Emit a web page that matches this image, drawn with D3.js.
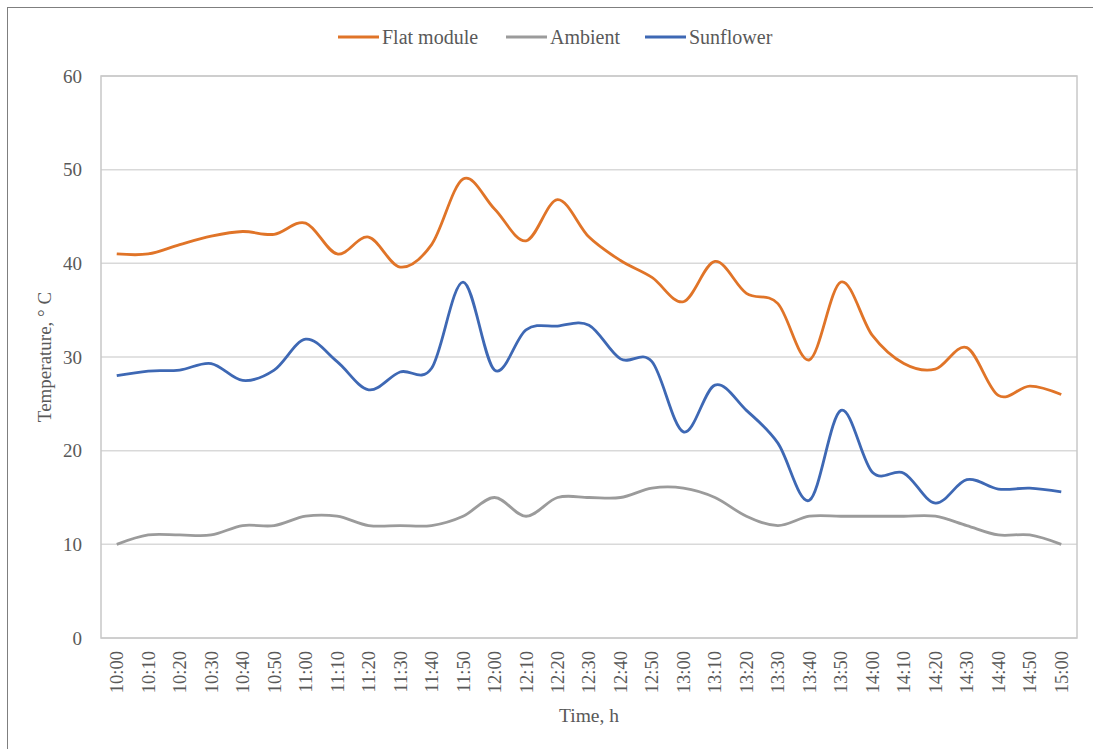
<!DOCTYPE html>
<html>
<head>
<meta charset="utf-8">
<script src="https://cdn.jsdelivr.net/npm/d3@7"></script>
<style>
  body { margin: 0; background: #fff; }
  svg text { font-family: "Liberation Serif", "Times New Roman", serif; fill: #595959; }
</style>
</head>
<body>
<div id="chart"></div>
<script>
const times = ["10:00","10:10","10:20","10:30","10:40","10:50","11:00","11:10","11:20","11:30",
  "11:40","11:50","12:00","12:10","12:20","12:30","12:40","12:50","13:00","13:10",
  "13:20","13:30","13:40","13:50","14:00","14:10","14:20","14:30","14:40","14:50","15:00"];
const flatModule = [41, 41, 42, 42.9, 43.4, 43.1, 44.3, 41, 42.8, 39.6,
  42, 49, 45.8, 42.4, 46.8, 42.8, 40.3, 38.5, 35.9, 40.2,
  36.8, 35.7, 29.7, 38, 32.3, 29.3, 28.7, 31, 25.9, 26.9, 26];
const ambient = [10, 11, 11, 11, 12, 12, 13, 13, 12, 12,
  12, 13, 15, 13, 15, 15, 15, 16, 16, 15,
  13, 12, 13, 13, 13, 13, 13, 12, 11, 11, 10];
const sunflower = [28, 28.5, 28.6, 29.3, 27.5, 28.6, 31.9, 29.5, 26.5, 28.4,
  28.8, 38, 28.6, 32.9, 33.3, 33.4, 29.8, 29.5, 22, 27,
  24.3, 20.8, 14.7, 24.3, 17.7, 17.6, 14.4, 16.9, 15.9, 16, 15.6];
const yTicks = [0, 10, 20, 30, 40, 50, 60];

const series = [
  { name: "Flat module", values: flatModule, color: "#e07428" },
  { name: "Ambient", values: ambient, color: "#9b9b9b" },
  { name: "Sunflower", values: sunflower, color: "#3e68b4" }
];

const width = 1093, height = 749;
const margin = { top: 76, right: 16, bottom: 111, left: 101 };
const innerW = width - margin.left - margin.right;
const innerH = height - margin.top - margin.bottom;

const svg = d3.select("#chart").append("svg")
  .attr("width", width)
  .attr("height", height);

// outer chart border
svg.append("rect")
  .attr("x", 7.5).attr("y", 7.5)
  .attr("width", width + 10).attr("height", height + 10)
  .attr("fill", "none").attr("stroke", "#7f7f7f").attr("stroke-width", 1);

const g = svg.append("g").attr("transform", `translate(${margin.left},${margin.top})`);

const x = d3.scaleBand().domain(times).range([0, innerW]).padding(0);
const y = d3.scaleLinear().domain([0, 60]).range([innerH, 0]);

// gridlines
g.selectAll(".grid")
  .data(yTicks)
  .enter().append("line")
  .attr("x1", 0).attr("x2", innerW)
  .attr("y1", d => y(d)).attr("y2", d => y(d))
  .attr("stroke", "#d9d9d9").attr("stroke-width", 1.5);

// plot border
g.append("rect")
  .attr("x", 0).attr("y", 0)
  .attr("width", innerW).attr("height", innerH)
  .attr("fill", "none").attr("stroke", "#c8c8c8").attr("stroke-width", 1.5);

// y axis labels
const yAxis = g.append("g")
  .call(d3.axisLeft(y).tickValues(yTicks).tickSize(0).tickPadding(19));
yAxis.select(".domain").remove();
yAxis.selectAll("text")
  .style("font-size", "19px")
  .style("font-family", "Liberation Serif");

// x axis labels
const xAxis = g.append("g")
  .attr("transform", `translate(0,${innerH})`)
  .call(d3.axisBottom(x).tickSize(0));
xAxis.select(".domain").remove();
xAxis.selectAll("text")
  .style("font-size", "18.5px")
  .style("font-family", "Liberation Serif")
  .attr("transform", "rotate(-90)")
  .attr("text-anchor", "end")
  .attr("x", -13)
  .attr("y", 0)
  .attr("dy", "0.35em");

// lines
const line = d3.line()
  .x((d, i) => x(times[i]) + x.bandwidth() / 2)
  .y(d => y(d))
  .curve(d3.curveCardinal.tension(0));

g.selectAll(".series")
  .data(series)
  .enter().append("path")
  .attr("d", d => line(d.values))
  .attr("fill", "none")
  .attr("stroke", d => d.color)
  .attr("stroke-width", 2.8)
  .attr("stroke-linejoin", "round");

// axis titles
svg.append("text")
  .attr("x", margin.left + innerW / 2)
  .attr("y", 722)
  .attr("text-anchor", "middle")
  .style("font-size", "19.5px")
  .text("Time, h");

svg.append("text")
  .attr("transform", `translate(51,${margin.top + innerH / 2}) rotate(-90)`)
  .attr("text-anchor", "middle")
  .style("font-size", "19px")
  .text("Temperature, ° C");

// legend
const legendX = [338, 506, 645];
const legend = svg.selectAll(".legend")
  .data(series)
  .enter().append("g")
  .attr("transform", (d, i) => `translate(${legendX[i]},37)`);
legend.append("line")
  .attr("x1", 0).attr("x2", 41)
  .attr("y1", 0).attr("y2", 0)
  .attr("stroke", d => d.color)
  .attr("stroke-width", 2.8);
legend.append("text")
  .attr("x", 44)
  .attr("y", 0)
  .attr("dy", "0.35em")
  .style("font-size", "20px")
  .text(d => d.name);
</script>
</body>
</html>
